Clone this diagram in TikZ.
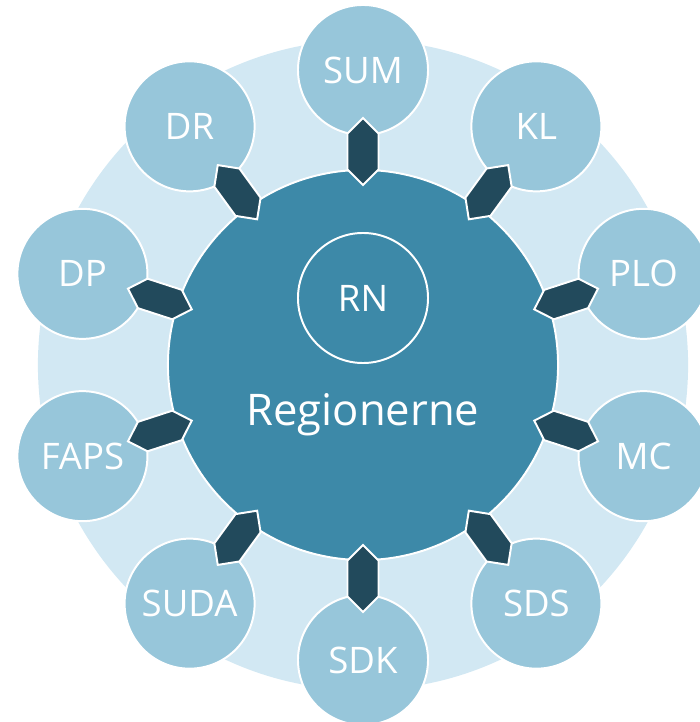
\documentclass[tikz,border=0pt]{standalone}
\usepackage{fontspec}
\setmainfont{Open Sans}
\usetikzlibrary{shapes.symbols,calc}
\definecolor{ringblue}{HTML}{D2E8F3}
\definecolor{memberblue}{HTML}{97C6DA}
\definecolor{hubblue}{HTML}{3D89A8}
\definecolor{linkblue}{HTML}{224A5C}

\begin{document}
\begin{tikzpicture}[x=0.025cm,y=0.025cm]
\tikzstyle{member} = [circle, fill=memberblue, draw=white, line width=1.4pt, minimum size=3.25cm, inner sep=0pt, text=white, font=\fontsize{26}{30}\selectfont]
\tikzstyle{hub} = [circle, fill=hubblue, draw=white, line width=1.4pt, minimum size=9.75cm]
\tikzstyle{link} = [signal, signal to=east and west, fill=linkblue, draw=white, line width=1.4pt, minimum width=1.675cm, minimum height=0.775cm, inner sep=0pt]
\useasboundingbox (-363,-357) rectangle (336,365);
\node[circle, fill=ringblue, minimum size=16.25cm] (ring) at (0,0) {};
\node[member] (SUM) at (90:295) {SUM};
\node[member] (KL) at (54:295) {KL};
\node[member] (PLO) at (18:295) {PLO};
\node[member] (MC) at (-18:295) {MC};
\node[member] (SDS) at (-54:295) {SDS};
\node[member] (SDK) at (-90:295) {SDK};
\node[member] (SUDA) at (-126:295) {SUDA};
\node[member] (FAPS) at (-162:295) {FAPS};
\node[member] (DP) at (162:295) {DP};
\node[member] (DR) at (126:295) {DR};
\node[hub] (RG) at (0,0) {};
\node[circle, draw=white, line width=1.4pt, minimum size=3.25cm, text=white, font=\fontsize{26}{30}\selectfont] (RN) at (0,67) {RN};
\node[text=white, font=\fontsize{31}{36}\selectfont] (name) at (0,-50) {Regionerne};
% forbindelser mellem regionerne og parterne
\node[link, rotate=90] (lSUM) at ($(RG)!0.724!(SUM)$) {};
\node[link, rotate=54] (lKL) at ($(RG)!0.724!(KL)$) {};
\node[link, rotate=18] (lPLO) at ($(RG)!0.724!(PLO)$) {};
\node[link, rotate=-18] (lMC) at ($(RG)!0.724!(MC)$) {};
\node[link, rotate=-54] (lSDS) at ($(RG)!0.724!(SDS)$) {};
\node[link, rotate=-90] (lSDK) at ($(RG)!0.724!(SDK)$) {};
\node[link, rotate=-126] (lSUDA) at ($(RG)!0.724!(SUDA)$) {};
\node[link, rotate=-162] (lFAPS) at ($(RG)!0.724!(FAPS)$) {};
\node[link, rotate=162] (lDP) at ($(RG)!0.724!(DP)$) {};
\node[link, rotate=126] (lDR) at ($(RG)!0.724!(DR)$) {};
\end{tikzpicture}
\end{document}
